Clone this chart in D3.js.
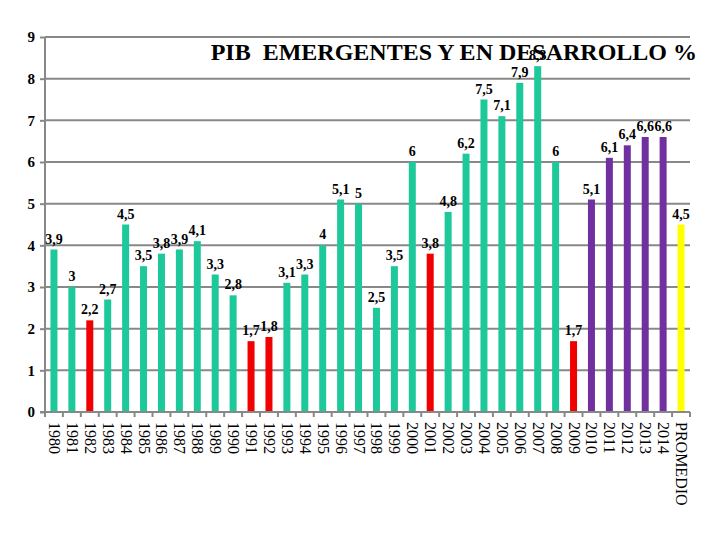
<!DOCTYPE html>
<html><head><meta charset="utf-8">
<script src="https://cdn.jsdelivr.net/npm/d3@7"></script>
<style>body{margin:0;background:#fff}svg{display:block}</style>
</head><body>
<svg id="c" width="720" height="540"></svg>
<script>
const categories = ["1980","1981","1982","1983","1984","1985","1986","1987","1988","1989","1990","1991","1992","1993","1994","1995","1996","1997","1998","1999","2000","2001","2002","2003","2004","2005","2006","2007","2008","2009","2010","2011","2012","2013","2014","PROMEDIO"];
const values = [3.9,3,2.2,2.7,4.5,3.5,3.8,3.9,4.1,3.3,2.8,1.7,1.8,3.1,3.3,4,5.1,5,2.5,3.5,6,3.8,4.8,6.2,7.5,7.1,7.9,8.3,6,1.7,5.1,6.1,6.4,6.6,6.6,4.5];
const groups = ["g","g","r","g","g","g","g","g","g","g","g","r","r","g","g","g","g","g","g","g","g","r","g","g","g","g","g","g","g","r","p","p","p","p","p","y"];
const yTicks = [0,1,2,3,4,5,6,7,8,9];
const title = "PIB  EMERGENTES Y EN DESARROLLO %";
const colors = {g:"#1DC99A", r:"#F00000", p:"#7030A0", y:"#FFFF00"};

const svg = d3.select("#c");
const L=45, R=690, T=37, B=412;
const xb = d3.scaleBand().domain(categories).range([L,R]);
const y = d3.scaleLinear().domain([0,9]).range([B,T]);

// gridlines
svg.append("g").selectAll("line").data(yTicks.filter(d=>d>0)).join("line")
  .attr("x1",L).attr("x2",R).attr("y1",d=>y(d)).attr("y2",d=>y(d))
  .attr("stroke","#888").attr("stroke-width",2);

// y axis
const ya = svg.append("g").attr("transform",`translate(${L},0)`)
  .call(d3.axisLeft(y).tickValues(yTicks).tickSize(5).tickPadding(5).tickFormat(d3.format("d")));
ya.selectAll("line").attr("stroke","#888").attr("stroke-width",2);
ya.select(".domain").attr("stroke","#888").attr("stroke-width",2).attr("d",`M0,${B}V${T}`);
ya.selectAll("text").attr("font-family","Liberation Serif").attr("font-weight","bold").attr("font-size",15).attr("fill","#000");

// bars
svg.append("g").selectAll("rect").data(values).join("rect")
  .attr("x",(d,i)=>xb(categories[i])+xb.bandwidth()/2-3.5)
  .attr("width",7)
  .attr("y",d=>y(d)).attr("height",d=>B-y(d))
  .attr("fill",(d,i)=>colors[groups[i]]);

// x axis
const xa = svg.append("g").attr("transform",`translate(0,${B})`);
xa.append("line").attr("x1",L-5).attr("x2",R).attr("y1",0).attr("y2",0).attr("stroke","#888").attr("stroke-width",2);
xa.selectAll("line.t").data(categories.concat(["end"])).join("line").attr("class","t")
  .attr("x1",(d,i)=>L+i*xb.bandwidth()).attr("x2",(d,i)=>L+i*xb.bandwidth())
  .attr("y1",0).attr("y2",5).attr("stroke","#888").attr("stroke-width",2);
xa.selectAll("text").data(categories).join("text")
  .attr("transform",d=>`translate(${xb(d)+xb.bandwidth()/2-5},10) rotate(90)`)
  .attr("font-family","Liberation Serif").attr("font-size",16).attr("fill","#000")
  .text(d=>d);

// data labels
svg.append("g").selectAll("text").data(values).join("text")
  .attr("x",(d,i)=>xb(categories[i])+xb.bandwidth()/2)
  .attr("y",d=>y(d)-6)
  .attr("text-anchor","middle")
  .attr("font-family","Liberation Serif").attr("font-weight","bold").attr("font-size",14)
  .text(d=>String(d).replace(".",","));

// title
svg.append("text").attr("x",697).attr("y",60).attr("text-anchor","end")
  .attr("font-family","Liberation Serif").attr("font-weight","bold").attr("font-size",24)
  .style("white-space","pre").attr("xml:space","preserve")
  .text(title);
</script>
</body></html>
